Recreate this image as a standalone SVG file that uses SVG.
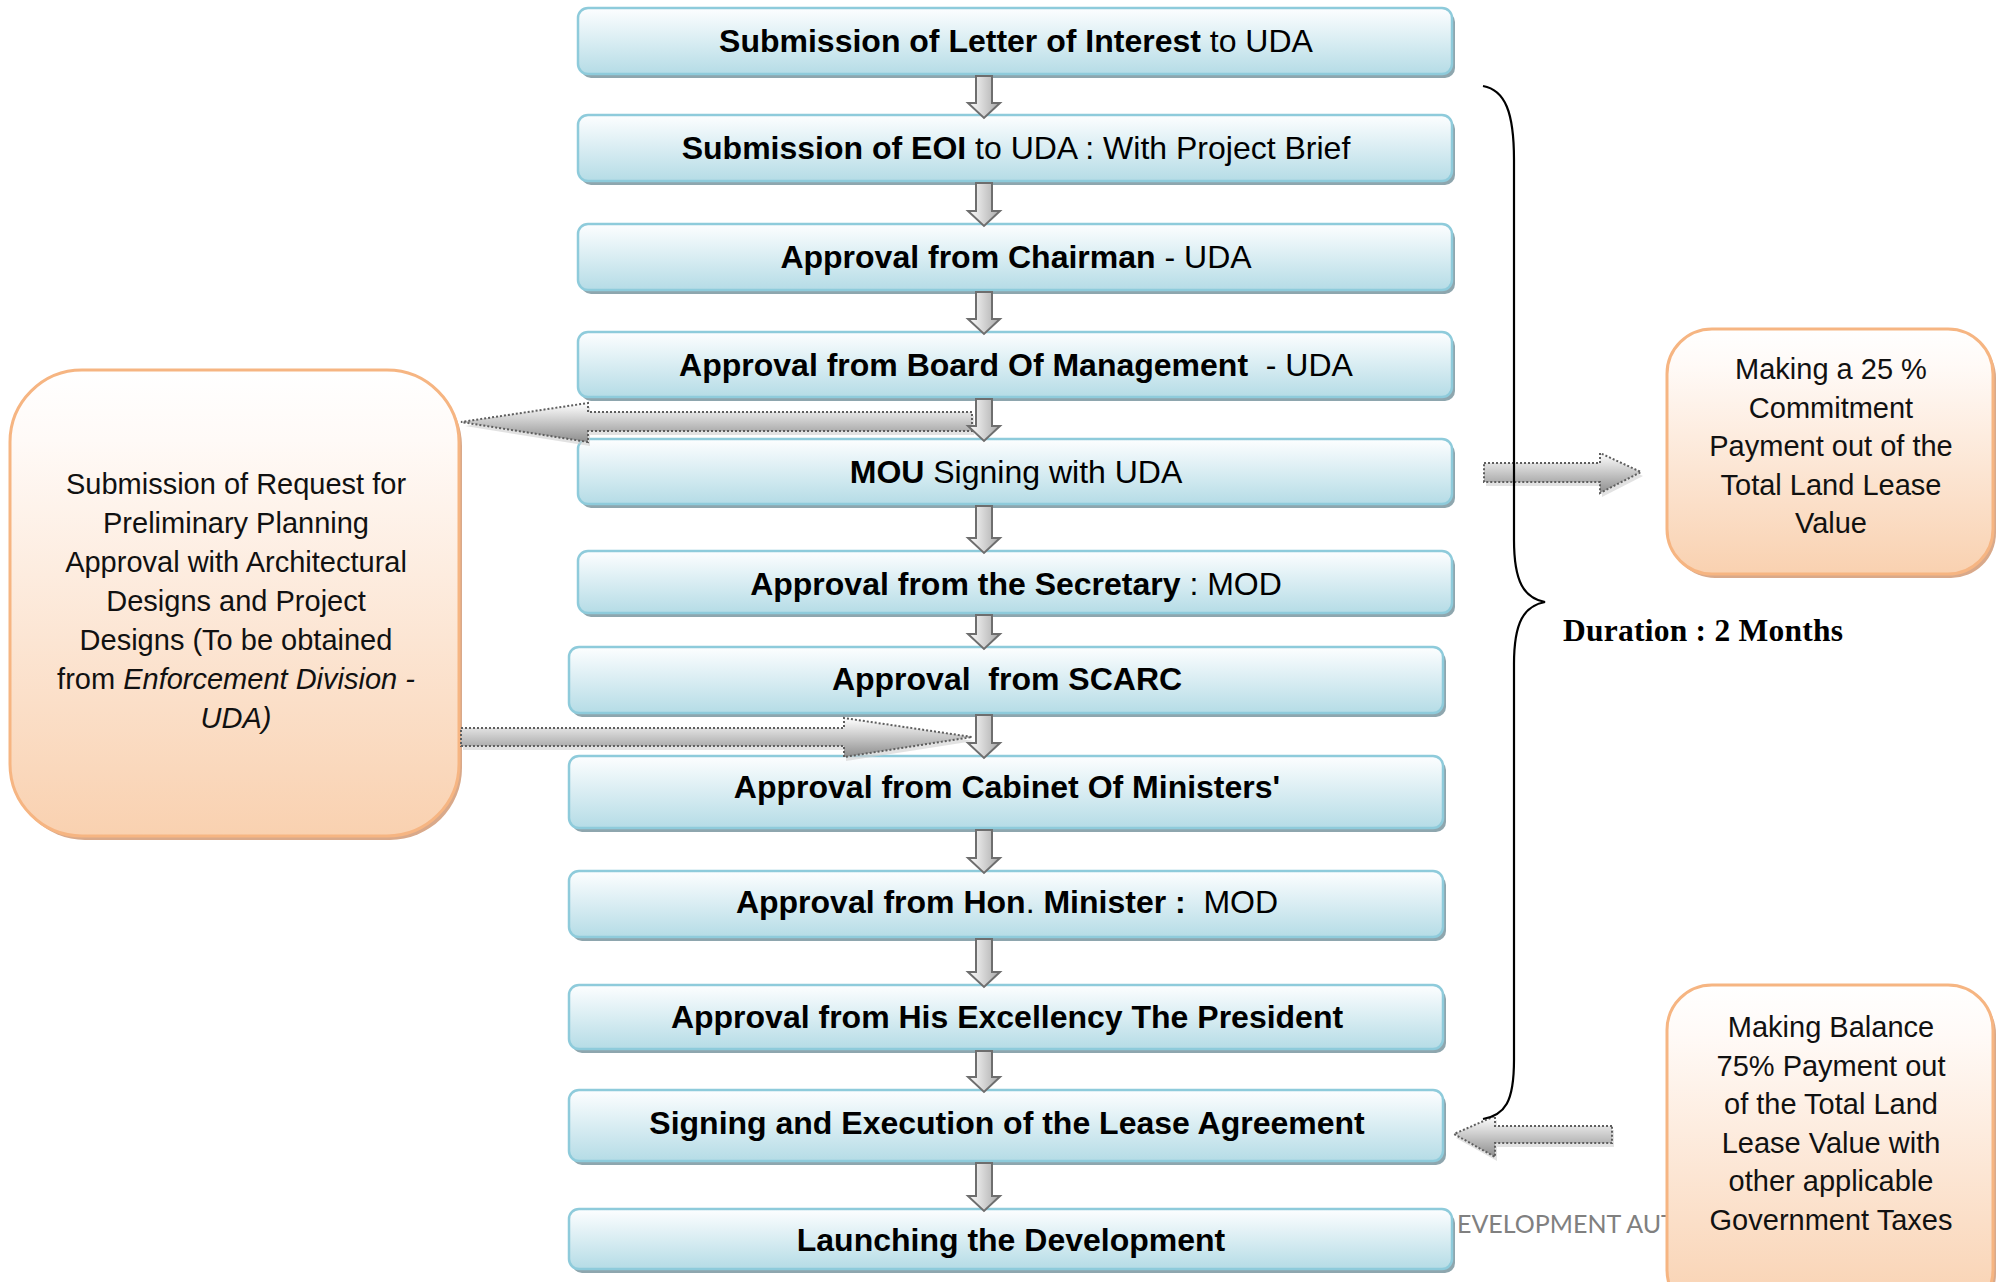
<svg xmlns="http://www.w3.org/2000/svg" width="2005" height="1282" viewBox="0 0 2005 1282">
<defs>
<linearGradient id="gBlue" x1="0" y1="0" x2="0" y2="1"><stop offset="0" stop-color="#fdfeff"/><stop offset="1" stop-color="#b5dce6"/></linearGradient>
<linearGradient id="gOr" x1="0" y1="0" x2="0" y2="1"><stop offset="0" stop-color="#ffffff"/><stop offset="0.15" stop-color="#fffaf7"/><stop offset="1" stop-color="#f9d1b0"/></linearGradient>
<linearGradient id="gDown" x1="0" y1="0" x2="1" y2="0"><stop offset="0" stop-color="#ffffff"/><stop offset="1" stop-color="#a8a8a8"/></linearGradient>
<linearGradient id="gBlock" x1="0" y1="0" x2="0" y2="1"><stop offset="0" stop-color="#ffffff"/><stop offset="1" stop-color="#8e8e8e"/></linearGradient>
<style>
.box{fill:url(#gBlue);stroke:#8ecbdb;stroke-width:2.5}
.bsh{fill:#8ea6ae}
.obox{fill:url(#gOr);stroke:#f6b582;stroke-width:3}
.osh{fill:#d9a98a}
.t{font-family:"Liberation Sans",Arial,sans-serif;font-size:32px;fill:#000;text-anchor:middle;white-space:pre}
.b{font-weight:bold}
.ot{font-family:"Liberation Sans",Arial,sans-serif;font-size:29px;fill:#111;text-anchor:middle;white-space:pre}
.dn{fill:url(#gDown);stroke:#6e6e6e;stroke-width:2}
.blk{fill:url(#gBlock);stroke:#5e5e5e;stroke-width:2;stroke-dasharray:2 2}
.blksh{fill:#cfcfcf}
.brace{fill:none;stroke:#000;stroke-width:2.2}
</style>
</defs>
<rect width="2005" height="1282" fill="#ffffff"/>
<text x="1457" y="1233" font-family="Lato,'Open Sans',sans-serif" font-size="25" fill="#808080">EVELOPMENT AUT</text>

<g id="n1"><rect class="bsh" x="581" y="12" width="874" height="66" rx="10"/><rect class="box" x="578" y="8" width="874" height="66" rx="10"/><text class="t" x="1016" y="52"><tspan class="b">Submission of Letter of Interest</tspan> to UDA</text></g>
<g id="n2"><rect class="bsh" x="581" y="119" width="874" height="66" rx="10"/><rect class="box" x="578" y="115" width="874" height="66" rx="10"/><text class="t" x="1016" y="159"><tspan class="b">Submission of EOI</tspan> to UDA : With Project Brief</text></g>
<g id="n3"><rect class="bsh" x="581" y="228" width="874" height="66" rx="10"/><rect class="box" x="578" y="224" width="874" height="66" rx="10"/><text class="t" x="1016" y="268"><tspan class="b">Approval from Chairman</tspan> - UDA</text></g>
<g id="n4"><rect class="bsh" x="581" y="336" width="874" height="65" rx="10"/><rect class="box" x="578" y="332" width="874" height="65" rx="10"/><text class="t" x="1016" y="376"><tspan class="b">Approval from Board Of Management</tspan>  - UDA</text></g>
<g id="n5"><rect class="bsh" x="581" y="443" width="874" height="65" rx="10"/><rect class="box" x="578" y="439" width="874" height="65" rx="10"/><text class="t" x="1016" y="483"><tspan class="b">MOU</tspan> Signing with UDA</text></g>
<g id="n6"><rect class="bsh" x="581" y="555" width="874" height="62" rx="10"/><rect class="box" x="578" y="551" width="874" height="62" rx="10"/><text class="t" x="1016" y="595"><tspan class="b">Approval from the Secretary</tspan> : MOD</text></g>
<g id="n7"><rect class="bsh" x="572" y="651" width="874" height="66" rx="10"/><rect class="box" x="569" y="647" width="874" height="66" rx="10"/><text class="t b" x="1007" y="690">Approval  from SCARC</text></g>
<g id="n8"><rect class="bsh" x="572" y="760" width="874" height="72" rx="10"/><rect class="box" x="569" y="756" width="874" height="72" rx="10"/><text class="t b" x="1007" y="798">Approval from Cabinet Of Ministers'</text></g>
<g id="n9"><rect class="bsh" x="572" y="875" width="874" height="66" rx="10"/><rect class="box" x="569" y="871" width="874" height="66" rx="10"/><text class="t" x="1007" y="913"><tspan class="b">Approval from Hon</tspan>.<tspan class="b"> Minister :</tspan>  MOD</text></g>
<g id="n10"><rect class="bsh" x="572" y="989" width="874" height="64" rx="10"/><rect class="box" x="569" y="985" width="874" height="64" rx="10"/><text class="t b" x="1007" y="1028">Approval from His Excellency The President</text></g>
<g id="n11"><rect class="bsh" x="572" y="1094" width="874" height="71" rx="10"/><rect class="box" x="569" y="1090" width="874" height="71" rx="10"/><text class="t b" x="1007" y="1134">Signing and Execution of the Lease Agreement</text></g>
<g id="n12"><rect class="bsh" x="572" y="1213" width="883" height="60" rx="10"/><rect class="box" x="569" y="1209" width="883" height="60" rx="10"/><text class="t b" x="1011" y="1251">Launching the Development</text></g>

<g id="nLeft"><rect class="osh" x="13" y="374" width="449" height="466" rx="72"/><rect class="obox" x="10" y="370" width="449" height="466" rx="72"/>
<text class="ot" x="236" y="494">Submission of Request for</text>
<text class="ot" x="236" y="533">Preliminary Planning</text>
<text class="ot" x="236" y="572">Approval with Architectural</text>
<text class="ot" x="236" y="611">Designs and Project</text>
<text class="ot" x="236" y="650">Designs (To be obtained</text>
<text class="ot" x="236" y="689">from <tspan font-style="italic">Enforcement Division -</tspan></text>
<text class="ot" x="236" y="728" font-style="italic">UDA)</text>
</g>
<g id="nRightTop"><rect class="osh" x="1670" y="333" width="326" height="245" rx="45"/><rect class="obox" x="1667" y="329" width="326" height="245" rx="45"/>
<text class="ot" x="1831" y="379">Making a 25 %</text>
<text class="ot" x="1831" y="418">Commitment</text>
<text class="ot" x="1831" y="456">Payment out of the</text>
<text class="ot" x="1831" y="495">Total Land Lease</text>
<text class="ot" x="1831" y="533">Value</text>
</g>
<g id="nRightBottom"><rect class="osh" x="1670" y="989" width="326" height="330" rx="45"/><rect class="obox" x="1667" y="985" width="326" height="330" rx="45"/>
<text class="ot" x="1831" y="1037">Making Balance</text>
<text class="ot" x="1831" y="1076">75% Payment out</text>
<text class="ot" x="1831" y="1114">of the Total Land</text>
<text class="ot" x="1831" y="1153">Lease Value with</text>
<text class="ot" x="1831" y="1191">other applicable</text>
<text class="ot" x="1831" y="1230">Government Taxes</text>
</g>

<g id="connectors">
<path class="blksh" d="M974,416 H590 V407 L465,426 L590,446 V435 H974 Z" opacity="0.6"/>
<path class="blk" d="M972,412 H588 V403 L461,422 L588,442 V431 H972 Z"/>
<path class="blksh" d="M463,732 H846 V722 L974,741 L846,761 V750 H463 Z" opacity="0.6"/>
<path class="blk" d="M461,728 H844 V718 L972,737 L844,757 V746 H461 Z"/>
<path class="blksh" d="M1486,467 H1602 V457 L1643,476 L1602,497 V486 H1486 Z" opacity="0.6"/>
<path class="blk" d="M1484,463 H1600 V453 L1641,472 L1600,493 V482 H1484 Z"/>
<path class="blksh" d="M1614,1130 H1497 V1120 L1456,1138 L1497,1161 V1147 H1614 Z" opacity="0.6"/>
<path class="blk" d="M1612,1126 H1495 V1116 L1454,1134 L1495,1157 V1143 H1612 Z"/>

<path class="dn" d="M976,76 H992 V103 H1000 L984,118 L968,103 H976 Z"/>
<path class="dn" d="M976,183 H992 V211 H1000 L984,226 L968,211 H976 Z"/>
<path class="dn" d="M976,292 H992 V319 H1000 L984,334 L968,319 H976 Z"/>
<path class="dn" d="M976,399 H992 V426 H1000 L984,441 L968,426 H976 Z"/>
<path class="dn" d="M976,506 H992 V538 H1000 L984,553 L968,538 H976 Z"/>
<path class="dn" d="M976,615 H992 V634 H1000 L984,649 L968,634 H976 Z"/>
<path class="dn" d="M976,715 H992 V743 H1000 L984,758 L968,743 H976 Z"/>
<path class="dn" d="M976,830 H992 V858 H1000 L984,873 L968,858 H976 Z"/>
<path class="dn" d="M976,939 H992 V972 H1000 L984,987 L968,972 H976 Z"/>
<path class="dn" d="M976,1051 H992 V1077 H1000 L984,1092 L968,1077 H976 Z"/>
<path class="dn" d="M976,1163 H992 V1196 H1000 L984,1211 L968,1196 H976 Z"/>

<path class="brace" d="M1483,86 C1505,90 1514,112 1514,160 L1514,540 C1514,582 1524,598 1545,602 C1524,606 1514,622 1514,664 L1514,1060 C1514,1102 1505,1115 1483,1119"/>
</g>
<text x="1563" y="641" font-family="'Liberation Serif','Times New Roman',serif" font-size="31.5" font-weight="bold" fill="#000" textLength="280" lengthAdjust="spacing">Duration : 2 Months</text>
</svg>
